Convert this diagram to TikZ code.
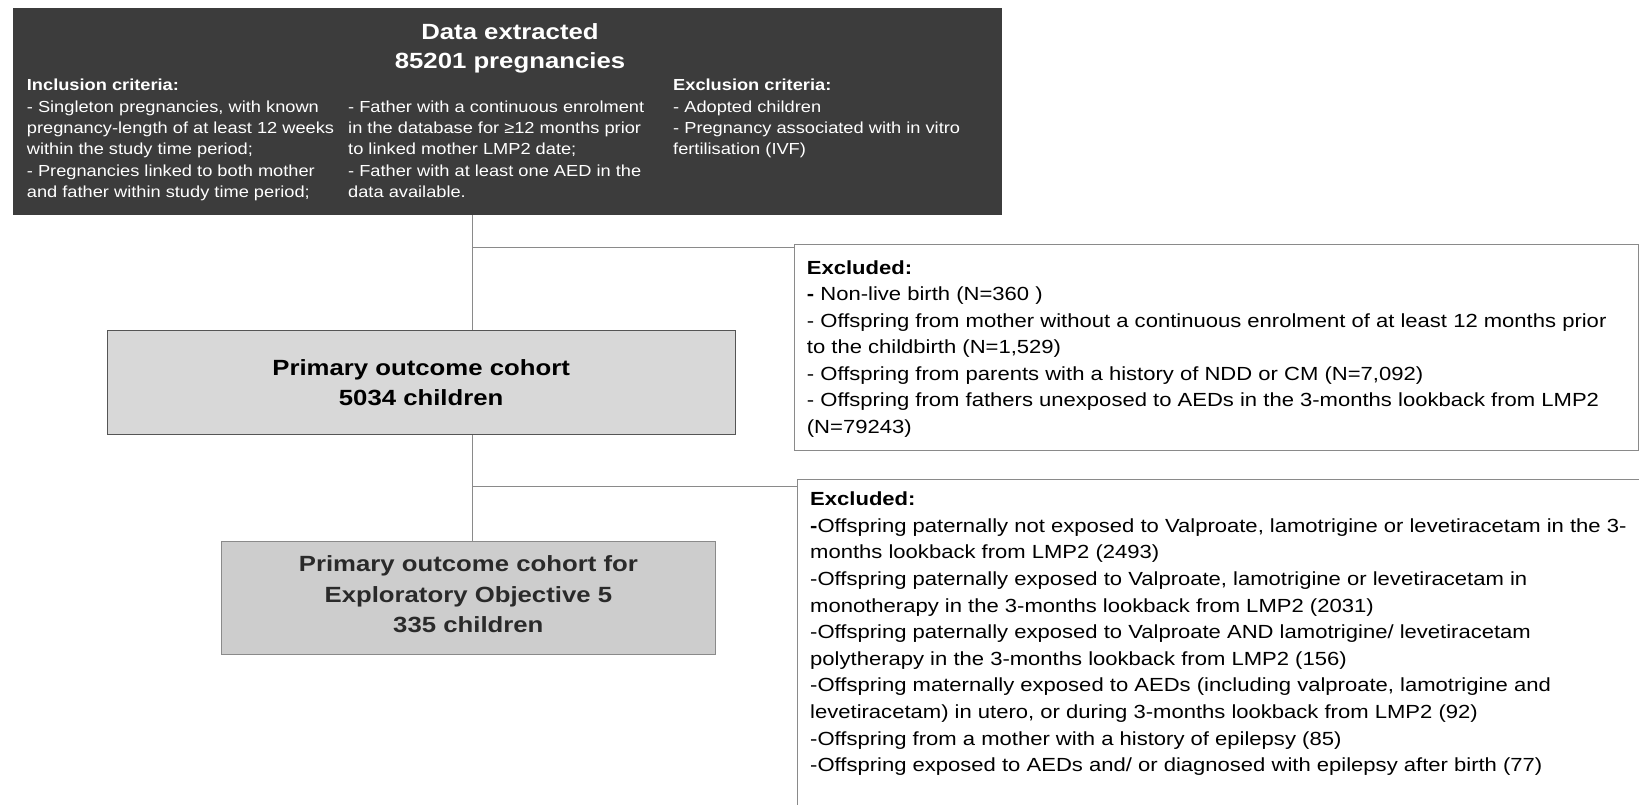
\documentclass[tikz,border=0pt]{standalone}
\usepackage{fontspec}
\setmainfont{Liberation Sans}
\newfontfamily\headfont[FakeStretch=1.17]{Liberation Sans}
\newfontfamily\critfont[FakeStretch=1.14]{Liberation Sans}
\newfontfamily\exfont[FakeStretch=1.16]{Liberation Sans}

\definecolor{topfill}{HTML}{3C3C3C}
\definecolor{primfill}{HTML}{D8D8D8}
\definecolor{secfill}{HTML}{CDCDCD}
\definecolor{linkgray}{HTML}{8A8A8A}
\definecolor{boxline}{HTML}{8A8A8A}
\definecolor{primline}{HTML}{555555}
\definecolor{sectext}{HTML}{2A2A2A}

\tikzset{
  topbox/.style={rectangle, fill=topfill, draw=none, inner sep=0pt},
  titletext/.style={inner sep=0pt, text=white, font=\headfont\bfseries\fontsize{22}{29}\selectfont},
  crittext/.style={inner sep=0pt, text=white, font=\critfont\fontsize{16}{21.3}\selectfont},
  exbox/.style={rectangle, draw=boxline, line width=1pt, fill=white, inner sep=0pt},
  extext/.style={inner sep=0pt, text=black, font=\exfont\fontsize{19}{26.6}\selectfont},
  cohort/.style={rectangle, draw=primline, line width=1pt, fill=primfill, inner sep=0pt,
    align=center, font=\headfont\bfseries\fontsize{22}{30}\selectfont},
  subcohort/.style={rectangle, draw=boxline, line width=1pt, fill=secfill, inner sep=0pt},
  subtext/.style={inner sep=0pt, align=center, text=sectext,
    font=\headfont\bfseries\fontsize{22}{30.5}\selectfont},
  link/.style={draw=linkgray, line width=1pt}
}

\begin{document}
\begin{tikzpicture}[x=1pt,y=-1pt]
\useasboundingbox (0,0) rectangle (1639,805);
\clip (0,0) rectangle (1639,805);
\fill[white] (0,0) rectangle (1639,805);

% data source box with its criteria
\node[topbox, minimum width=989pt, minimum height=207pt] (data) at (507.2,111.5) {};
\node[titletext, anchor=base] (title) at (510,39.6)
  {\begin{tabular}[t]{@{}c@{}}Data extracted\\85201 pregnancies\end{tabular}};
\node[crittext, anchor=base west] (incl) at (26.7,91)
  {\begin{tabular}[t]{@{}l@{}}\textbf{Inclusion criteria:}\\
   - Singleton pregnancies, with known\\
   pregnancy-length of at least 12 weeks\\
   within the study time period;\\
   - Pregnancies linked to both mother\\
   and father within study time period;\end{tabular}};
\node[crittext, anchor=base west] (inclb) at (348,112.3)
  {\begin{tabular}[t]{@{}l@{}}- Father with a continuous enrolment\\
   in the database for ≥12 months prior\\
   to linked mother LMP2 date;\\
   - Father with at least one AED in the\\
   data available.\end{tabular}};
\node[crittext, anchor=base west] (excl) at (673,91)
  {\begin{tabular}[t]{@{}l@{}}\textbf{Exclusion criteria:}\\
   - Adopted children\\
   - Pregnancy associated with in vitro\\
   fertilisation (IVF)\end{tabular}};

% cohorts
\node[cohort, minimum width=627.7pt, minimum height=104.5pt] (prim) at (421.15,382.25)
  {Primary outcome cohort\\5034 children};
\node[subcohort, minimum width=493.3pt, minimum height=112.3pt] (sec) at (468.35,597.85) {};
\node[subtext] (sectxt) at ([yshift=3.5pt]sec.center)
  {Primary outcome cohort for\\Exploratory Objective 5\\335 children};

% exclusion boxes
\node[exbox, minimum width=843.7pt, minimum height=205.7pt, anchor=north west] (ex1) at (794.3,244.3) {};
\node[extext, anchor=base west] (ex1txt) at (806.7,274)
  {\begin{tabular}[t]{@{}l@{}}\textbf{Excluded:}\\
   \textbf{-} Non-live birth (N=360 )\\
   - Offspring from mother without a continuous enrolment of at least 12 months prior\\
   to the childbirth (N=1,529)\\
   - Offspring from parents with a history of NDD or CM (N=7,092)\\
   - Offspring from fathers unexposed to AEDs in the 3-months lookback from LMP2\\
   (N=79243)\end{tabular}};

\node[exbox, minimum width=870pt, minimum height=360pt, anchor=north west] (ex2) at (796.7,479) {};
\node[extext, anchor=base west] (ex2txt) at (810,505.7)
  {\begin{tabular}[t]{@{}l@{}}\textbf{Excluded:}\\
   \textbf{-}Offspring paternally not exposed to Valproate, lamotrigine or levetiracetam in the 3-\\
   months lookback from LMP2 (2493)\\
   -Offspring paternally exposed to Valproate, lamotrigine or levetiracetam in\\
   monotherapy in the 3-months lookback from LMP2 (2031)\\
   -Offspring paternally exposed to Valproate AND lamotrigine/ levetiracetam\\
   polytherapy in the 3-months lookback from LMP2 (156)\\
   -Offspring maternally exposed to AEDs (including valproate, lamotrigine and\\
   levetiracetam) in utero, or during 3-months lookback from LMP2 (92)\\
   -Offspring from a mother with a history of epilepsy (85)\\
   -Offspring exposed to AEDs and/ or diagnosed with epilepsy after birth (77)\end{tabular}};

% connectors
\coordinate (trunk) at (472.5,0);
\coordinate (j1) at (472.5,247.7);
\coordinate (j2) at (472.5,486.7);
\draw[link] (data.south -| trunk) -- (prim.north -| trunk);
\draw[link] (j1) -- (j1 -| ex1.west);
\draw[link] (prim.south -| trunk) -- (sec.north -| trunk);
\draw[link] (j2) -- (j2 -| ex2.west);
\end{tikzpicture}
\end{document}
